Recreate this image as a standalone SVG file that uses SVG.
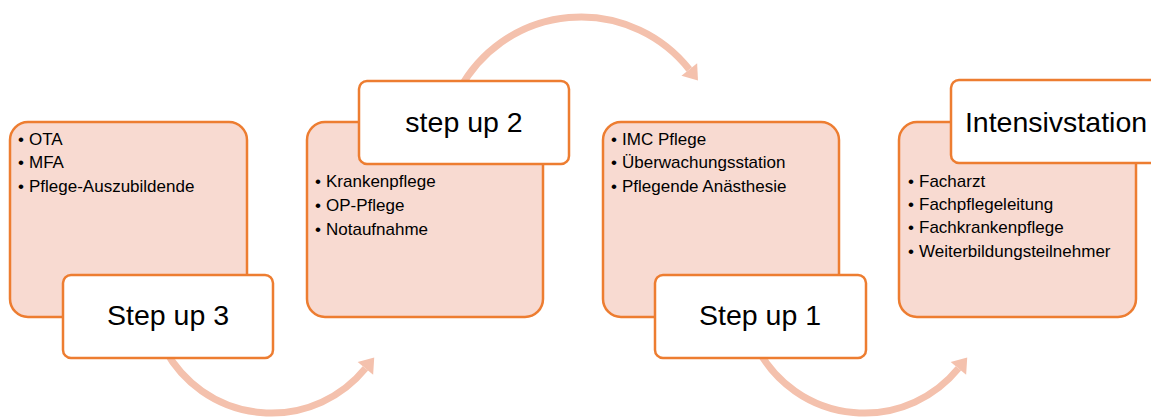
<svg xmlns="http://www.w3.org/2000/svg" width="1151" height="419" viewBox="0 0 1151 419">
  <defs>
    <marker id="head" markerUnits="userSpaceOnUse" markerWidth="20" markerHeight="22" viewBox="0 -11 16 22" refX="0" refY="0" orient="auto">
      <path d="M0,-10 L14,0 L0,10 z" fill="#F4C1AD"/>
    </marker>
    <style>
      .arc { fill: none; stroke: #F4C1AD; stroke-width: 7; marker-end: url(#head); }
      .panel { fill: #F8DAD1; stroke: #ED7D31; stroke-width: 2.5; }
      .label { fill: #FFFFFF; stroke: #ED7D31; stroke-width: 2.5; }
      .big { font-family: "Liberation Sans", Arial, sans-serif; font-size: 28.5px; fill: #000; text-anchor: middle; }
      .item { font-family: "Liberation Sans", Arial, sans-serif; font-size: 17px; fill: #000; }
    </style>
  </defs>
  <rect width="1151" height="419" fill="#FFFFFF"/>

  <g id="connectors">
    <path class="arc" d="M165.3,350 A121,121 0 0 0 365.4,368.4"/>
    <path class="arc" d="M459.3,90 A138,138 0 0 1 689.3,69.5"/>
    <path class="arc" d="M758.3,350 A121,121 0 0 0 958.4,368.4"/>
  </g>

  <g id="node-step3">
    <rect class="panel" x="10" y="122" width="237" height="195" rx="18"/>
    <text class="item" x="18" y="145">•</text><text class="item" x="29" y="145">OTA</text>
    <text class="item" x="18" y="168">•</text><text class="item" x="29" y="168">MFA</text>
    <text class="item" x="18" y="192">•</text><text class="item" x="29" y="192">Pflege-Auszubildende</text>
    <rect class="label" x="63" y="275" width="210" height="83" rx="8"/>
    <text class="big" x="168" y="325">Step up 3</text>
  </g>

  <g id="node-step2">
    <rect class="panel" x="307" y="122" width="236" height="195" rx="18"/>
    <rect class="label" x="359" y="81" width="210" height="83" rx="8"/>
    <text class="big" x="464" y="132">step up 2</text>
    <text class="item" x="315" y="187">•</text><text class="item" x="326" y="187">Krankenpflege</text>
    <text class="item" x="315" y="211">•</text><text class="item" x="326" y="211">OP-Pflege</text>
    <text class="item" x="315" y="235">•</text><text class="item" x="326" y="235">Notaufnahme</text>
  </g>

  <g id="node-step1">
    <rect class="panel" x="603" y="122" width="236" height="195" rx="18"/>
    <text class="item" x="611" y="145">•</text><text class="item" x="622" y="145">IMC Pflege</text>
    <text class="item" x="611" y="168">•</text><text class="item" x="622" y="168">Überwachungsstation</text>
    <text class="item" x="611" y="192">•</text><text class="item" x="622" y="192">Pflegende Anästhesie</text>
    <rect class="label" x="655" y="275" width="211" height="83" rx="8"/>
    <text class="big" x="760" y="325">Step up 1</text>
  </g>

  <g id="node-intensiv">
    <rect class="panel" x="899" y="122" width="237" height="195" rx="18"/>
    <rect class="label" x="951" y="80" width="210" height="83" rx="8"/>
    <text class="big" x="1056" y="132">Intensivstation</text>
    <text class="item" x="908" y="187">•</text><text class="item" x="919" y="187">Facharzt</text>
    <text class="item" x="908" y="210">•</text><text class="item" x="919" y="210">Fachpflegeleitung</text>
    <text class="item" x="908" y="233">•</text><text class="item" x="919" y="233">Fachkrankenpflege</text>
    <text class="item" x="908" y="257">•</text><text class="item" x="919" y="257">Weiterbildungsteilnehmer</text>
  </g>
</svg>
